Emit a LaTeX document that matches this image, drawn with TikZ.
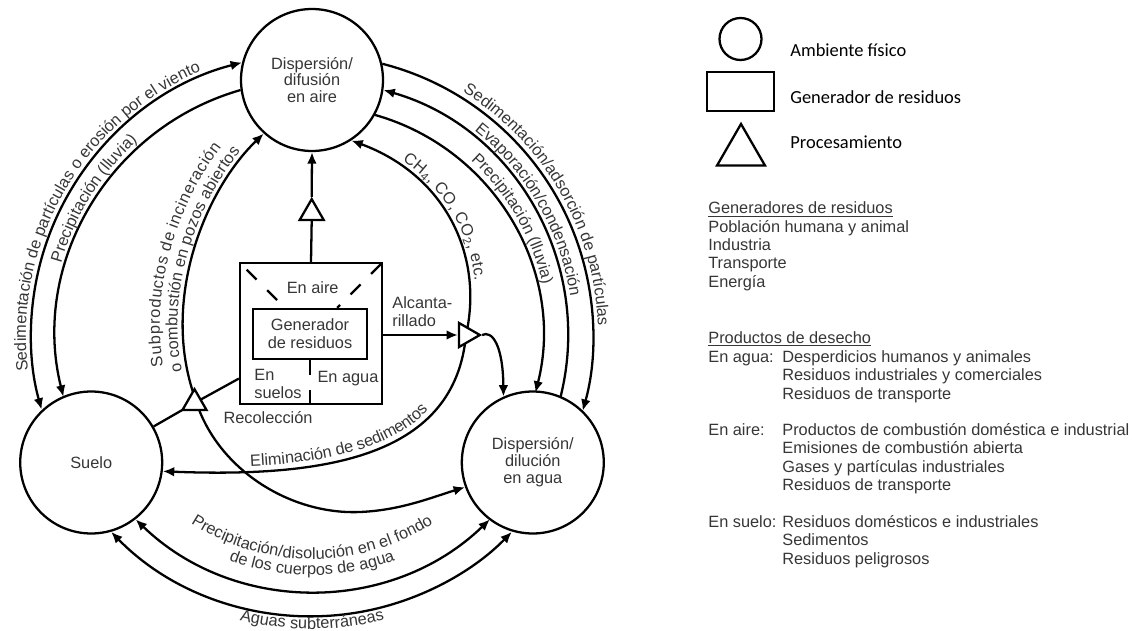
\documentclass[tikz,border=0pt]{standalone}
\usepackage{fontspec}
\setmainfont{Liberation Sans}
\newfontfamily\legendfont{Carlito}
\usetikzlibrary{arrows.meta,shapes.geometric,decorations.text}
\definecolor{txtgray}{HTML}{363636}
\newcommand{\dfont}{\fontsize{9.3}{10.3}\selectfont}

\begin{document}
\begin{tikzpicture}[x=0.02cm, y=0.02cm]
    \useasboundingbox (0,0) rectangle (1132,-631);
    \tikzset{
        flow/.style={line width=1.3pt, >={Latex[length=6.5pt,width=5.5pt]}},
        medium/.style={circle, draw, line width=1.3pt, minimum size=2.84cm, inner sep=0pt,
            align=center, text=txtgray, font=\fontsize{9.3}{9.6}\selectfont},
        source/.style={rectangle, draw, line width=1.3pt, inner sep=0pt},
        proc/.style={regular polygon, regular polygon sides=3, draw, fill=white,
            line width=1.3pt, minimum size=0.554cm, inner sep=0pt},
        lbl/.style={inner sep=0pt, text=txtgray, font=\dfont},
        along/.style={decorate, decoration={text along path, text align=center,
            raise=#1, text color=txtgray}},
        along/.default=0pt
    }

    % medios
    \node[medium] (air)   at (312,-80)      {Dispersión/\\difusión\\en aire};
    \node[medium] (suelo) at (91.2,-462.5)  {Suelo};
    \node[medium] (water) at (532.8,-462.5) {Dispersión/\\dilución\\en agua};

    % generador de residuos
    \node[source, minimum width=2.84cm, minimum height=2.82cm] (gen) at (311,-333.5) {};
    \node[source, minimum width=2.28cm, minimum height=1cm, align=center,
        text=txtgray, font=\dfont] (res) at (310,-334) {Generador\\de residuos};
    \draw[line width=1.3pt, dash pattern=on 0.28cm off 0.3cm, dash phase=0.36cm]
        (gen.north west) -- ++(46,-46);
    \draw[line width=1.3pt, dash pattern=on 0.28cm off 0.3cm, dash phase=0.52cm]
        (gen.north east) -- ++(-46,-46);
    \draw[line width=1.3pt, dash pattern=on 0.3cm off 0.3cm] (res.south) -- (res.south |- gen.south);
    \node[lbl] (enaire) at (312.7,-288) {En aire};
    \node[lbl, align=left, anchor=west] (ensuelos) at (254,-384) {En\\suelos};
    \node[lbl] (enagua) at (348,-379) {En agua};
    \node[lbl] (recol) at (268,-418) {Recolección};
    \node[lbl, align=left, anchor=west] (alcant) at (392,-312) {Alcanta-\\rillado};

    % arcos entre medios
    \begin{scope}[shift={(312,-335)}]
        \draw[flow,<->] (air.166.7) arc[start angle=104.3, end angle=195.7, radius=280];
        \draw[flow,->] (air.188) arc[start angle=106, end angle=194, radius=255];
        \draw[flow,->] (air.13.3) arc[start angle=75.7, end angle=-15.7, radius=280];
        \draw[flow,<-] (air.352) arc[start angle=74, end angle=-14, radius=255];
        \draw[flow,->] (air.331.7) arc[start angle=74.2, end angle=-14.2, radius=230];
        \draw[flow,<->] (suelo.308) arc[start angle=226, end angle=314, radius=255];
        \draw[flow,<->] (suelo.286.7) arc[start angle=224.3, end angle=315.7, radius=280];

        \path[along, decoration={text={|\dfont|Sedimentación de partículas o erosión por el viento}}]
            (195.7:286) arc[start angle=195.7, end angle=104.3, radius=286];
        \path[along, decoration={text={|\dfont|Precipitación (lluvia)}}]
            (194:261) arc[start angle=194, end angle=102, radius=261];
        \path[along, decoration={text={|\dfont|Sedimentación/adsorción de partículas}}]
            (75.7:286) arc[start angle=75.7, end angle=-15.7, radius=286];
        \path[along, decoration={text={|\dfont|Evaporación/condensación}}]
            (74:261) arc[start angle=74, end angle=-14, radius=261];
        \path[along, decoration={text={|\dfont|Precipitación (lluvia)}}]
            (74.2:236) arc[start angle=74.2, end angle=-14.2, radius=236];
        \path[along, decoration={text={|\dfont|de los cuerpos de agua}}]
            (226:240) arc[start angle=226, end angle=314, radius=240];
        \path[along, decoration={text={|\dfont|Precipitación/disolución en el fondo}}]
            (226:224) arc[start angle=226, end angle=314, radius=224];
        \path[along, decoration={text={|\dfont|Aguas subterráneas}}]
            (224:294) arc[start angle=224, end angle=316, radius=294];
    \end{scope}

    % procesamiento
    \node[proc] (triair) at (311.7,-213) {};
    \draw[flow] (gen.north) -- (triair.south);
    \draw[flow,->] (triair.north) -- (air.south);

    \coordinate (pcol) at (194.5,-403);
    \coordinate (psew) at (466,-335);
    \draw[flow,<->] (air.228) .. controls (205,-190) and (160,-300) .. (195,-398)
        .. controls (216,-469) and (290,-515) .. (360,-512)
        .. controls (400,-510.3) and (430,-498) .. (water.200);
    \draw[flow] (gen.212) -- (pcol) -- (suelo.30);
    \draw[flow,<-] (suelo.-7) .. controls (330,-478) and (455,-455) .. (psew);
    \draw[flow,->] (psew) .. controls (484,-255) and (445,-175) .. (air.-57);
    \node[proc] (tricol) at (pcol) {};
    \node[proc, shape border rotate=-90] (trisew) at (psew) {};
    \draw[flow,->] (gen.east |- trisew.west) -- (trisew.west);
    \draw[flow,->] (trisew.east) .. controls (492,-330) and (503,-345) .. (water.114);

    \path[along=3pt, decoration={text={|\dfont|o combustión en pozos abiertos}}]
        (195,-398) .. controls (160,-300) and (205,-190) .. (air.228);
    \path[along=13pt, decoration={text={|\dfont|Subproductos de incineración}}]
        (195,-398) .. controls (160,-300) and (205,-190) .. (air.228);
    \path[along=3pt, decoration={text={|\dfont|Eliminación de sedimentos}}]
        (suelo.-7) .. controls (330,-478) and (455,-455) .. (psew);
    \path[along=3pt, decoration={text={|\dfont|CH{\textsubscript{4}}, CO, CO{\textsubscript{2}}, etc.}}]
        (air.-57) .. controls (445,-175) and (484,-255) .. (psew);

    % leyenda
    \node[circle, draw, line width=1.3pt, minimum size=0.84cm, inner sep=0pt] (lgcirc) at (740.5,-39) {};
    \node[source, minimum width=1.34cm, minimum height=0.78cm] (lgrect) at (740.5,-91.5) {};
    \node[proc, minimum size=1.109cm] (lgtri) at (741,-151.7) {};
    \node[anchor=west, inner sep=0pt, font=\legendfont\fontsize{10.5}{12}\selectfont] (lgt1) at (790,-50) {Ambiente físico};
    \node[anchor=west, inner sep=0pt, font=\legendfont\fontsize{10.5}{12}\selectfont] (lgt2) at (790,-97) {Generador de residuos};
    \node[anchor=west, inner sep=0pt, font=\legendfont\fontsize{10.5}{12}\selectfont] (lgt3) at (790,-142) {Procesamiento};

    \node[lbl, anchor=base west] (gh) at (708,-214) {\underline{Generadores de residuos}};
    \foreach \txt [count=\i] in {Población humana y animal, Industria, Transporte, Energía}
        \node[lbl, anchor=base west] (g\i) at (708,{-214-18.3*\i}) {\txt};

    \node[lbl, anchor=base west] (ph) at (708,-343) {\underline{Productos de desecho}};
    \node[lbl, anchor=base west] (pagua) at (708,-362) {En agua:};
    \node[lbl, anchor=base west] (paire) at (708,-435) {En aire:};
    \node[lbl, anchor=base west] (psuelo) at (708,-527) {En suelo:};
    \foreach \y/\txt [count=\i] in {362/Desperdicios humanos y animales,
        380/Residuos industriales y comerciales, 399/Residuos de transporte,
        435/Productos de combustión doméstica e industrial, 453/Emisiones de combustión abierta,
        472/Gases y partículas industriales, 490/Residuos de transporte,
        527/Residuos domésticos e industriales, 545/Sedimentos, 564/Residuos peligrosos}
        \node[lbl, anchor=base west] (pl\i) at (782,-\y) {\txt};
\end{tikzpicture}
\end{document}
